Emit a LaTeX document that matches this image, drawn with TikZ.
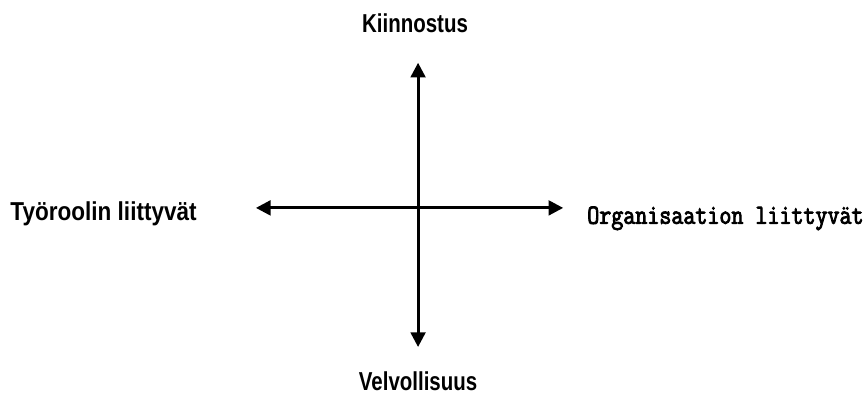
\documentclass[tikz,border=0pt]{standalone}
\usepackage{fontspec}
\usepackage{tikz}
\usetikzlibrary{arrows.meta, positioning}
\setmainfont{Liberation Sans}
\newfontfamily\axisfont[FakeStretch=0.79]{Liberation Sans}
\newfontfamily\leftfont[FakeStretch=0.87]{Liberation Sans}
\newfontfamily\sidefont[FakeStretch=0.84, FakeBold=3]{Latin Modern Mono}
\tikzset{
  axisline/.style={{Triangle[length=11pt, width=11pt]}-{Triangle[length=11pt, width=11pt]}, line width=2.25pt, draw=black},
  axislabel/.style={font=\axisfont\bfseries\fontsize{19.5}{23}\selectfont, inner sep=0pt},
  leftlabel/.style={font=\leftfont\bfseries\fontsize{19.5}{23}\selectfont, inner sep=0pt},
  sidelabel/.style={font=\sidefont\fontsize{20.9}{24}\selectfont, inner sep=0pt}
}

\begin{document}
\begin{tikzpicture}
  \useasboundingbox (-11.06,-5.05) rectangle (11.85,5.50);

  % axis ends
  \coordinate (top) at (0,3.84);
  \coordinate (bottom) at (0,-3.68);
  \coordinate (left) at (-4.29,0);
  \coordinate (right) at (3.84,0);

  \draw[axisline] (bottom) -- (top);
  \draw[axisline] (left) -- (right);

  % labels
  \node[axislabel, anchor=base] at (-0.08,4.63) (kiinnostus) {Kiinnostus};
  \node[axislabel, anchor=base] at (0,-4.82) (velvollisuus) {Velvollisuus};
  \node[leftlabel, anchor=base west] at (-10.79,-0.32) (tyorooli) {Työroolin liittyvät};
  \node[sidelabel, anchor=base west] at (4.47,-0.42) (organisaatio) {Organisaation liittyvät};
\end{tikzpicture}
\end{document}
